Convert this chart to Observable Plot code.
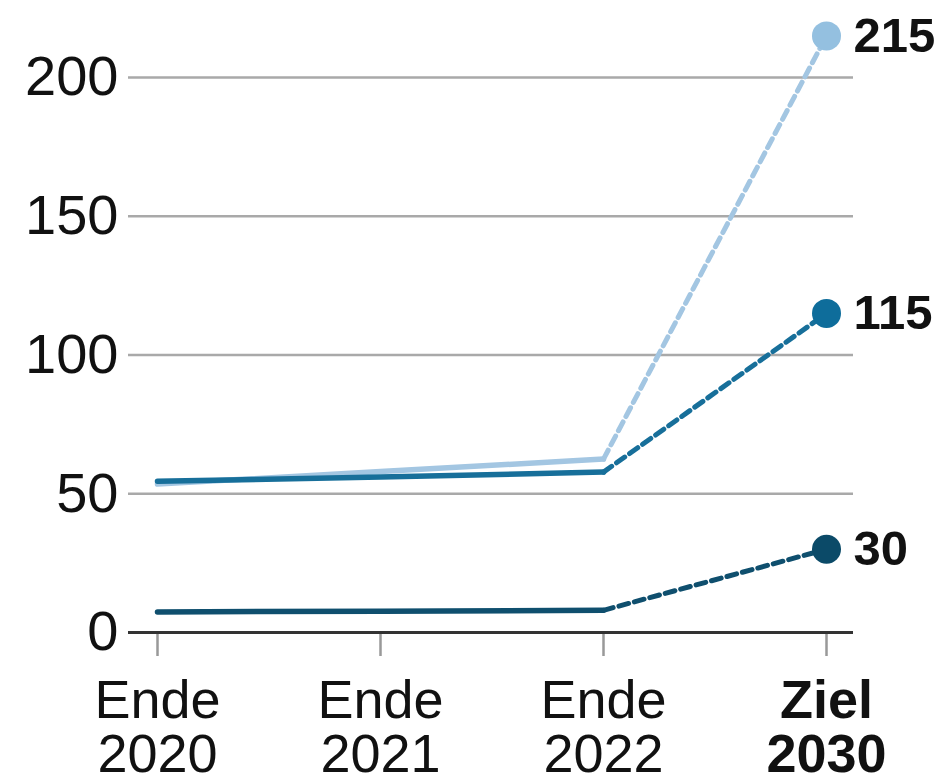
<!DOCTYPE html>
<html>
<head>
<meta charset="utf-8">
<script src="https://cdn.jsdelivr.net/npm/d3@7"></script>
<script src="https://cdn.jsdelivr.net/npm/@observablehq/plot@0.6"></script>
<style>
  html, body { margin: 0; padding: 0; background: #fff; }
  #chart svg { display: block; }
</style>
</head>
<body>
<div id="chart"></div>
<script>
const categories = ["Ende 2020", "Ende 2021", "Ende 2022", "Ziel 2030"];
const seriesNames = ["hell", "mittel", "dunkel"];
const valuesHell = [53.5, 58, 62.5, 215];
const valuesMittel = [54.5, 56, 57.8, 115];
const valuesDunkel = [7.4, 7.7, 8.0, 30];
const yTicks = [0, 50, 100, 150, 200];
const gridTicks = [50, 100, 150, 200];

const seriesValues = [valuesHell, valuesMittel, valuesDunkel];
const lineColors = {hell: "#a3c6e2", mittel: "#176f9a", dunkel: "#0f4f6e"};
const dotColors = {hell: "#94c0e0", mittel: "#0e6d9b", dunkel: "#0b4a68"};

const rows = [];
seriesNames.forEach((s, i) => {
  categories.forEach((c, j) => rows.push({series: s, cat: c, idx: j, value: seriesValues[i][j]}));
});
const solid = rows.filter(d => d.idx <= 2);
const dashed = rows.filter(d => d.idx >= 2);
const endpoints = rows.filter(d => d.idx === 3);

const font = "'Liberation Sans', Arial, Helvetica, sans-serif";

const chart = Plot.plot({
  width: 948,
  height: 777,
  marginLeft: 128,
  marginRight: 95,
  marginTop: 20,
  marginBottom: 145,
  style: {fontFamily: font, color: "#111", background: "#fff"},
  x: {type: "point", domain: categories, range: [157, 826], padding: 0, label: null},
  y: {domain: [0, 200], range: [632, 77], label: null},
  marks: [
    Plot.ruleY(gridTicks, {stroke: "#a9a9a9", strokeWidth: 2.5}),
    Plot.axisY(yTicks, {tickSize: 0, tickPadding: 10, fontSize: 56, fill: "#111", fontFamily: font, label: null}),
    Plot.axisX(categories.slice(0, 3), {
      tickSize: 24, tickPadding: 23, stroke: "#999", strokeWidth: 2.5,
      fontSize: 54, lineHeight: 1.0, fill: "#111", fontFamily: font,
      tickFormat: d => d.replace(" ", "\n"), label: null
    }),
    Plot.axisX(categories.slice(3), {
      tickSize: 24, tickPadding: 23, stroke: "#999", strokeWidth: 2.5,
      fontSize: 54, lineHeight: 1.0, fill: "#111", fontWeight: "bold", fontFamily: font,
      tickFormat: d => d.replace(" ", "\n"), label: null
    }),
    Plot.ruleY([0], {stroke: "#333", strokeWidth: 3}),
    ...seriesNames.map(s => Plot.line(solid.filter(d => d.series === s), {
      x: "cat", y: "value", stroke: lineColors[s], strokeWidth: 5.5, strokeLinecap: "round"
    })),
    ...seriesNames.map(s => Plot.line(dashed.filter(d => d.series === s), {
      x: "cat", y: "value", stroke: lineColors[s], strokeWidth: 5, strokeDasharray: "10,6"
    })),
    ...seriesNames.map(s => Plot.dot(endpoints.filter(d => d.series === s), {
      x: "cat", y: "value", r: 14.5, fill: dotColors[s], stroke: "none"
    })),
    Plot.text(endpoints, {
      x: "cat", y: "value", text: d => String(d.value), dx: 27, textAnchor: "start",
      fontWeight: "bold", fontSize: 49, fill: "#111", fontFamily: font
    })
  ]
});
document.getElementById("chart").appendChild(chart);
</script>
</body>
</html>
